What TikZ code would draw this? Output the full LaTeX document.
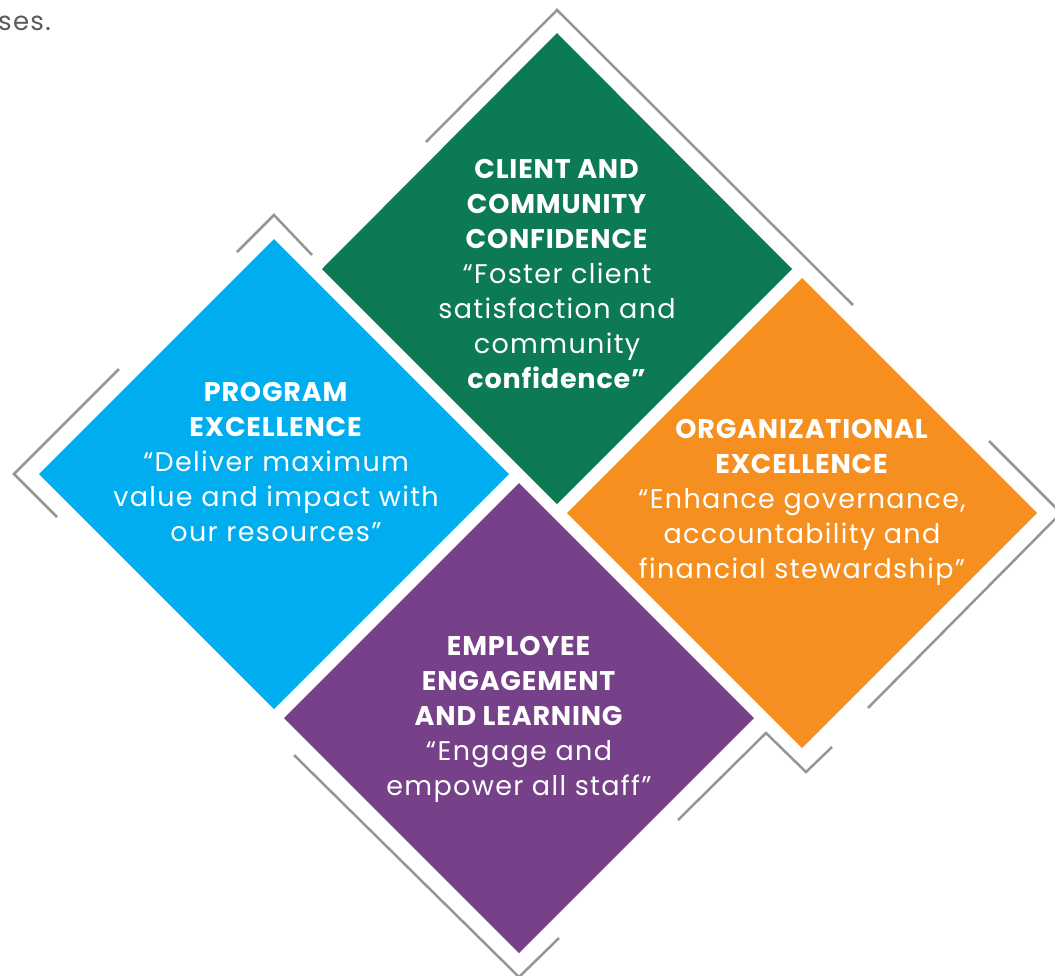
\documentclass[tikz,border=0pt]{standalone}
\usepackage{fontspec}
\setmainfont{Poppins}[LetterSpace=5,BoldFeatures={LetterSpace=3}]
\definecolor{gruen}{RGB}{12,122,82}
\definecolor{blau}{RGB}{0,174,239}
\definecolor{orange}{RGB}{245,143,32}
\definecolor{lila}{RGB}{118,65,136}
\definecolor{rahmengrau}{RGB}{150,150,150}
\definecolor{textgrau}{RGB}{89,89,89}
\tikzset{
	rahmen/.style={line width=2.5pt, color=rahmengrau, line join=miter},
	schrift/.style={text=white, align=center, font=\fontsize{27}{35}\selectfont},
}
\begin{document}
\begin{tikzpicture}[x=1pt,y=-1pt]
	\useasboundingbox (0,0) rectangle (1055,975);
	% Text oben
	\node[
		anchor=west,
		text=textgrau,
		font=\fontsize{26}{35}\selectfont,
		inner sep=0pt
	] (rest) at (-2,23) {ses.};
	% Rahmen
	\draw[rahmen] (426,142) -- (557,10) -- (853,305);
	\draw[rahmen] (237,252) -- (274,215) -- (312,255);
	\draw[rahmen] (119,369) -- (14,474) -- (57,517);
	\draw[rahmen] (989,441) -- (1061,513) -- (868,708);
	\draw[rahmen] (294,755) -- (519,977) -- (559,938);
	\draw[rahmen] (678,820) -- (766,733) -- (806,772) -- (832,747);
	% Kunde (oben)
	\fill[
		color=gruen
	] (557,33) -- (792,269) -- (557,504) -- (322,269) -- cycle;
	% Programm (links)
	\fill[
		color=blau
	] (274,239) -- (509,474) -- (274,709) -- (39,474) -- cycle;
	% Organisation (rechts)
	\fill[
		color=orange
	] (802,278) -- (1037,513) -- (802,748) -- (567,513) -- cycle;
	% Mitarbeiter (unten)
	\fill[
		color=lila
	] (519,483) -- (754,718) -- (519,953) -- (284,718) -- cycle;
	% Texte
	\node[schrift] (kunde) at (557,274) {\textbf{CLIENT AND}\\
		\textbf{COMMUNITY}\\ \textbf{CONFIDENCE}\\ “Foster client\\
		satisfaction and\\ community\\ \textbf{confidence”}};
	\node[schrift] (programm) at (276,462) {\textbf{PROGRAM}\\
		\textbf{EXCELLENCE}\\ “Deliver maximum\\ value and impact with\\
		our resources”};
	\node[schrift] (organisation) at (802,502) {\textbf{ORGANIZATIONAL}\\
		\textbf{EXCELLENCE}\\ “Enhance governance,\\
		accountability and\\ financial stewardship”};
	\node[schrift] (mitarbeiter) at (519,719) {\textbf{EMPLOYEE}\\
		\textbf{ENGAGEMENT}\\ \textbf{AND LEARNING}\\ “Engage and\\
		empower all staff”};
\end{tikzpicture}
\end{document}
